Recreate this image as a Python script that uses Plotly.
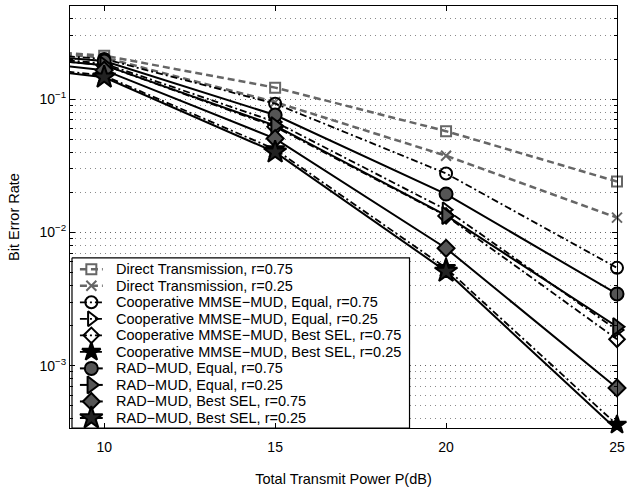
import plotly.graph_objects as go

# transmit power (dB); the 5 dB point only feeds the line entering at the left edge
power = [5, 10, 15, 20, 25]

direct_075 = [0.26, 0.212, 0.122, 0.0575, 0.0241]
direct_025 = [0.255, 0.205, 0.095, 0.0376, 0.0129]
coop_eq_075 = [0.25, 0.200, 0.0925, 0.0277, 0.00542]
coop_eq_025 = [0.24, 0.185, 0.0675, 0.0148, 0.00185]
coop_best_075 = [0.235, 0.18, 0.062, 0.0133, 0.00158]
coop_best_025 = [0.21, 0.15, 0.042, 0.0054, 0.00036]
rad_eq_075 = [0.245, 0.193, 0.076, 0.0194, 0.00345]
rad_eq_025 = [0.235, 0.18, 0.0633, 0.0134, 0.00196]
rad_best_075 = [0.225, 0.165, 0.0506, 0.0076, 0.00068]
rad_best_025 = [0.205, 0.146, 0.040, 0.0051, 0.00033]

names = [
    "Direct Transmission, r=0.75",
    "Direct Transmission, r=0.25",
    "Cooperative MMSE\u2212MUD, Equal, r=0.75",
    "Cooperative MMSE\u2212MUD, Equal, r=0.25",
    "Cooperative MMSE\u2212MUD, Best SEL, r=0.75",
    "Cooperative MMSE\u2212MUD, Best SEL, r=0.25",
    "RAD\u2212MUD, Equal, r=0.75",
    "RAD\u2212MUD, Equal, r=0.25",
    "RAD\u2212MUD, Best SEL, r=0.75",
    "RAD\u2212MUD, Best SEL, r=0.25",
]

x_ticks = [10, 15, 20, 25]
y_ticks = [1e-3, 1e-2, 1e-1]
y_tick_text = ["10<sup>\u22123</sup>", "10<sup>\u22122</sup>", "10<sup>\u22121</sup>"]

GRAY = "#666666"
FILL = "#555555"
FONT = "Liberation Sans, Arial, sans-serif"
DASH = "7px,4px"            # matlab '--'
DASHDOT = "7px,3px,2px,3px"  # matlab '-.'

# (values, line color, dash, width, symbol, size, fill, edge)
styles = [
    (direct_075, GRAY, DASH, 2.5, "square-open", 10, GRAY, GRAY),
    (direct_025, GRAY, DASH, 2.5, "x-thin-open", 10, GRAY, GRAY),
    (coop_eq_075, "black", DASHDOT, 1.8, "circle-open", 12, "black", "black"),
    (coop_eq_025, "black", DASHDOT, 1.8, "triangle-right-open", 13, "black", "black"),
    (coop_best_075, "black", DASHDOT, 1.8, "diamond-open", 12, "black", "black"),
    (coop_best_025, "black", DASHDOT, 1.8, "star", 14, "black", "black"),
    (rad_eq_075, "black", "solid", 2, "circle", 13, FILL, "black"),
    (rad_eq_025, "black", "solid", 2, "triangle-right", 15, FILL, "black"),
    (rad_best_075, "black", "solid", 2, "diamond", 13, FILL, "black"),
    (rad_best_025, "black", "solid", 2, "star", 17, "#222222", "black"),
]

fig = go.Figure()
for name, (vals, col, dash, w, sym, size, fill, edge) in zip(names, styles):
    fig.add_trace(go.Scatter(
        x=power, y=vals, name=name, mode="lines+markers",
        line=dict(color=col, dash=dash, width=w),
        marker=dict(symbol=sym, size=size, color=fill,
                    line=dict(color=edge, width=2)),
        cliponaxis=False, showlegend=False,
    ))

# hand-made legend on an overlay axis measured in plot pixels (matlab style box)
box = dict(x0=72, x1=412, y0=264, y1=439)
row0, row_step = 275.7, 17.0
fig.add_trace(go.Scatter(
    x=[box["x0"], box["x1"], box["x1"], box["x0"], box["x0"]],
    y=[box["y0"], box["y0"], box["y1"], box["y1"], box["y0"]],
    mode="lines", fill="toself", fillcolor="white",
    line=dict(color="black", width=1.2),
    xaxis="x2", yaxis="y2", showlegend=False, hoverinfo="skip",
))
for i, (name, (vals, col, dash, w, sym, size, fill, edge)) in enumerate(zip(names, styles)):
    yr = row0 + i * row_step
    fig.add_trace(go.Scatter(
        x=[80, 103], y=[yr, yr], mode="lines",
        line=dict(color=col, dash=dash, width=w),
        xaxis="x2", yaxis="y2", showlegend=False, hoverinfo="skip",
    ))
    fig.add_trace(go.Scatter(
        x=[91.5], y=[yr], mode="markers",
        marker=dict(symbol=sym, size=size, color=fill,
                    line=dict(color=edge, width=2)),
        xaxis="x2", yaxis="y2", showlegend=False, hoverinfo="skip",
        cliponaxis=False,
    ))
    fig.add_annotation(
        x=114, y=yr, xref="x2", yref="y2", text=name, showarrow=False,
        xanchor="left", yanchor="middle", font=dict(size=14.5),
    )

minor_vals = [k * 10.0 ** e for e in range(-4, 0) for k in range(2, 10)]

fig.update_layout(
    width=630, height=490,
    margin=dict(l=70, r=9, t=5, b=51),
    paper_bgcolor="white", plot_bgcolor="white",
    font=dict(family=FONT, size=14, color="black"),
    showlegend=False,
    xaxis=dict(
        range=[9, 25], tickvals=x_ticks,
        showline=True, linecolor="black", linewidth=1, mirror="ticks",
        ticks="inside", ticklen=5, tickcolor="black", ticklabelstandoff=6,
        showgrid=False, zeroline=False,
        title=dict(text="Total Transmit Power P(dB)", standoff=20, font=dict(size=14.5)),
    ),
    yaxis=dict(
        type="log", range=[-3.468, -0.301],
        tickvals=y_ticks, ticktext=y_tick_text,
        showline=True, linecolor="black", linewidth=1, mirror="ticks",
        ticks="inside", ticklen=5, tickcolor="black",
        showgrid=True, gridcolor="#666666", griddash="1px,4px", gridwidth=1,
        minor=dict(tickvals=minor_vals, ticks="inside", ticklen=3, tickcolor="black",
                   showgrid=True, gridcolor="#8a8a8a", griddash="1px,4px", gridwidth=1),
        zeroline=False,
        title=dict(text="Bit Error Rate", standoff=16, font=dict(size=14.5)),
    ),
    xaxis2=dict(overlaying="x", range=[70, 621], visible=False, anchor="y2"),
    yaxis2=dict(overlaying="y", range=[439, 5], visible=False, anchor="x2"),
)

fig.write_html("out.html", config={"displayModeBar": False},
               post_script="document.body.style.margin='0';")
